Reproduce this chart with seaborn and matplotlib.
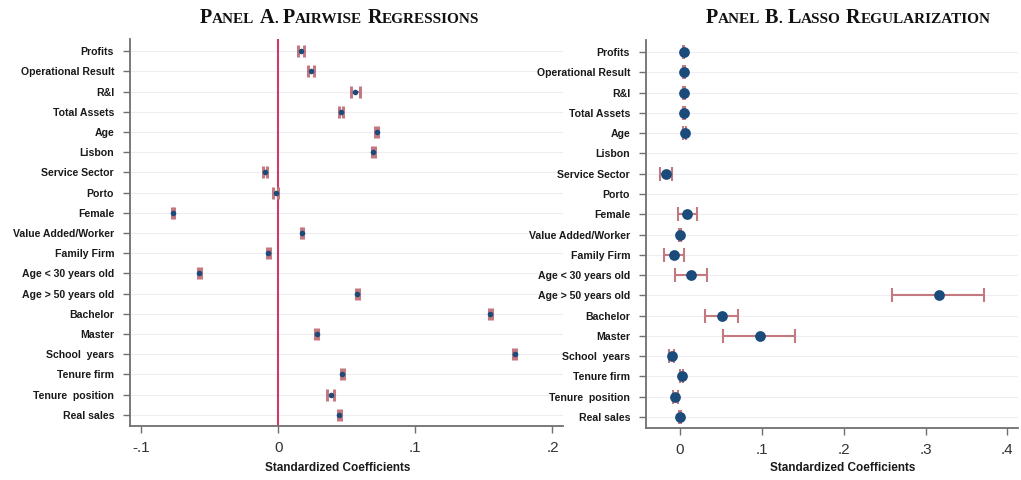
import numpy as np
import pandas as pd
import matplotlib
matplotlib.use("Agg")
import matplotlib.pyplot as plt
import seaborn as sns

# variables, top to bottom
labels = ["Profits", "Operational Result", "R&I", "Total Assets", "Age", "Lisbon",
          "Service Sector", "Porto", "Female", "Value Added/Worker", "Family Firm",
          "Age < 30 years old", "Age > 50 years old", "Bachelor", "Master",
          "School  years", "Tenure firm", "Tenure  position", "Real sales"]

# Panel A: pairwise regressions
coef_a = [0.0168, 0.0241, 0.0564, 0.0460, 0.0718, 0.0695, -0.0095, -0.0019, -0.0767,
          0.0174, -0.0072, -0.0574, 0.0577, 0.1548, 0.0280, 0.1725, 0.0468, 0.0382, 0.0447]
half_a = [0.0020, 0.0020, 0.0031, 0.0015, 0.0010, 0.0012, 0.0012, 0.0015, 0.0010,
          0.0010, 0.0012, 0.0010, 0.0010, 0.0010, 0.0010, 0.0010, 0.0012, 0.0026, 0.0012]

# Panel B: lasso (Lisbon and Porto dropped)
coef_b = [0.0045, 0.0048, 0.0047, 0.0046, 0.0058, np.nan, -0.0175, np.nan, 0.0090,
          0.0000, -0.0070, 0.0140, 0.3160, 0.0510, 0.0977, -0.0100, 0.0020, -0.0060, 0.0000]
lo_b = [0.0035, 0.0038, 0.0037, 0.0036, 0.0040, np.nan, -0.0248, np.nan, -0.0030,
        -0.0010, -0.0200, -0.0060, 0.2590, 0.0310, 0.0530, -0.0130, 0.0000, -0.0090, -0.0010]
hi_b = [0.0055, 0.0058, 0.0057, 0.0056, 0.0076, np.nan, -0.0100, np.nan, 0.0210,
        0.0010, 0.0050, 0.0330, 0.3720, 0.0710, 0.1404, -0.0070, 0.0040, -0.0030, 0.0010]

xticks_a = [-0.1, 0, 0.1, 0.2]
xticks_b = [0, 0.1, 0.2, 0.3, 0.4]
ticklab_a = ["-.1", "0", ".1", ".2"]
ticklab_b = ["0", ".1", ".2", ".3", ".4"]

navy = "#1b4b7b"
pink = "#c47880"

sns.set_style("white")
plt.rcParams["font.family"] = ["Liberation Sans", "DejaVu Sans"]

fig = plt.figure(figsize=(10.21, 4.8), dpi=100)
W, H = 1021, 480
ax_a = fig.add_axes([130 / W, 1 - 426 / H, 433 / W, 387 / H])
ax_b = fig.add_axes([646 / W, 1 - 428 / H, 372 / W, 388 / H])

pos = np.arange(len(labels))
df_a = pd.DataFrame({"y": pos, "coef": coef_a, "half": half_a})
df_b = pd.DataFrame({"y": pos, "coef": coef_b, "lo": lo_b, "hi": hi_b})

# panel A
ax_a.axvline(0, color="#cc3b62", lw=1.5, zorder=1)
ax_a.errorbar(df_a["coef"], df_a["y"], xerr=df_a["half"], fmt="none",
              ecolor=pink, elinewidth=1.5, capsize=4.6, capthick=2.2, zorder=2)
sns.scatterplot(data=df_a, x="coef", y="y", ax=ax_a, color=navy, marker="o",
                s=16, linewidth=0, zorder=3)
ax_a.set_xlim(-0.108, 0.2077)

# panel B
ok = df_b.dropna()
ax_b.errorbar(ok["coef"], ok["y"], xerr=[ok["coef"] - ok["lo"], ok["hi"] - ok["coef"]],
              fmt="none", ecolor=pink, elinewidth=1.5, capsize=4.7, capthick=1.5, zorder=2)
sns.scatterplot(data=ok, x="coef", y="y", ax=ax_b, color=navy, s=60,
                linewidth=0, zorder=3)
ax_b.set_xlim(-0.0415, 0.413)

for ax, xt, xl, lx, ly in [(ax_a, xticks_a, ticklab_a, 0.48, -0.094),
                           (ax_b, xticks_b, ticklab_b, 0.528, -0.088)]:
    ax.set_ylim(18.55, -0.6)
    ax.set_yticks(pos)
    ax.set_yticklabels(labels, fontsize=7.6, fontweight="bold", color="#1a1a1a")
    ax.set_xticks(xt)
    ax.set_xticklabels(xl, fontsize=11, color="#333333")
    ax.set_ylabel("")
    ax.set_xlabel("Standardized Coefficients", fontsize=8.5, fontweight="bold",
                  color="#1a1a1a")
    ax.xaxis.set_label_coords(lx, ly)
    for y in pos:
        ax.axhline(y, color="#eeeef2", lw=0.8, zorder=0)
    for s in ["top", "right"]:
        ax.spines[s].set_visible(False)
    for s in ["left", "bottom"]:
        ax.spines[s].set_color("#707070")
        ax.spines[s].set_linewidth(1.3)
    ax.tick_params(axis="both", length=5, width=1, color="#707070",
                   direction="out", left=True, bottom=True)
    ax.tick_params(axis="y", pad=6.5)
    ax.tick_params(axis="x", pad=6)


# small-caps serif titles, built piece by piece
def small_caps_title(text, xc, base_y, big=14.5, small=11):
    renderer = fig.canvas.get_renderer()
    pieces = []
    for w, word in enumerate(text.split(" ")):
        if w > 0:
            pieces.append((" ", big))
        pieces.append((word[0], big))
        if len(word) > 1:
            pieces.append((word[1:].upper(), small))
    arts = []
    total = 0
    for s, fs in pieces:
        if s == " ":
            arts.append((None, 0.26 * fs * 100 / 72))
            total += arts[-1][1]
            continue
        t = fig.text(0, 1 - base_y / H, s, fontsize=fs, fontweight="bold",
                     family="Liberation Serif", va="baseline", ha="left", color="#111111")
        wpx = t.get_window_extent(renderer).width
        arts.append((t, wpx))
        total += wpx
    x = xc - total / 2
    for t, wpx in arts:
        if t is not None:
            t.set_x(x / W)
        x += wpx


small_caps_title("Panel A. Pairwise Regressions", 339.5, 23)
small_caps_title("Panel B. Lasso Regularization", 848, 23)

fig.savefig("out.png", dpi=100)
